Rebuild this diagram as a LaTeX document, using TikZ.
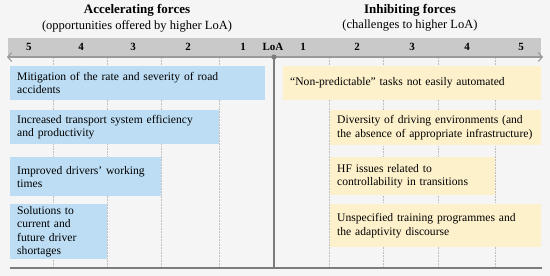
\documentclass[tikz,border=0pt]{standalone}
\usepackage{fontspec}
\setmainfont{Liberation Serif}
\usetikzlibrary{arrows.meta}
\definecolor{bgc}{HTML}{F5F5F5}
\definecolor{bandc}{HTML}{C9C9C9}
\definecolor{bluec}{HTML}{BCDDF3}
\definecolor{yellowc}{HTML}{FDF1CC}
\definecolor{axisc}{HTML}{7C7C7C}
\definecolor{arrowc}{HTML}{9A9A9A}
\definecolor{gridc}{HTML}{BDBDBD}
\begin{document}
\begin{tikzpicture}[x=1pt,y=-1pt,
  boxtext/.style={anchor=north west, inner xsep=7pt, inner ysep=0pt, align=left,
    font=\fontsize{11.6}{13.3}\selectfont, text=black},
  bluebox/.style={boxtext, fill=bluec},
  yellowbox/.style={boxtext, fill=yellowc},
  ticklab/.style={font=\fontsize{11}{12}\selectfont\bfseries, inner sep=0pt},
  titlelab/.style={font=\fontsize{13}{14}\selectfont\bfseries, inner sep=0pt},
  sublab/.style={font=\fontsize{12.5}{13}\selectfont, inner sep=0pt},
  gridline/.style={gridc, densely dotted, line width=0.6pt},
  axisline/.style={arrowc, line width=1.3pt, -{Straight Barb[length=4pt,width=9pt,line width=1.1pt]}},
  baseline/.style={axisc, line width=1.8pt}
]
\useasboundingbox[fill=bgc] (0,0) rectangle (550,276);

% titles
\node[titlelab] (tl) at (137,10) {Accelerating forces};
\node[sublab] (sl) at (137,26) {(opportunities offered by higher LoA)};
\node[titlelab] (tr) at (410,10) {Inhibiting forces};
\node[sublab] (sr) at (410,26) {(challenges to higher LoA)};

% band
\fill[bandc] (8,38) rectangle (541,57);

% coordinates of the axis
\coordinate (O) at (274,57);
\coordinate (Lend) at (7,57);
\coordinate (Rend) at (543,57);
\coordinate (Obot) at (274,268);
\coordinate (Bl) at (10,268);
\coordinate (Br) at (542,268);

% grid lines
\foreach \gx [count=\i] in {53,107,161,219,329,383,438,495}{
  \coordinate (gt\i) at (\gx,58);
  \coordinate (gb\i) at (\gx,267);
  \draw[gridline] (gt\i) -- (gb\i);
}

% tick labels
\node[ticklab] (l5) at (29,47) {5};
\node[ticklab] (l4) at (81,47) {4};
\node[ticklab] (l3) at (133,47) {3};
\node[ticklab] (l2) at (188,47) {2};
\node[ticklab] (l1) at (243,47) {1};
\node[ticklab] (loa) at (273,47) {LoA};
\node[ticklab] (r1) at (303,47) {1};
\node[ticklab] (r2) at (357,47) {2};
\node[ticklab] (r3) at (412,47) {3};
\node[ticklab] (r4) at (467,47) {4};
\node[ticklab] (r5) at (521,47) {5};

% axis arrows
\draw[axisline] (O) -- (Lend);
\draw[axisline] (O) -- (Rend);

% left boxes
\node[bluebox, minimum width=255pt, minimum height=34pt, text width=241pt] (a1) at (10,66)
  {\mbox{Mitigation of the rate and severity of road}\\\mbox{accidents}};
\node[bluebox, minimum width=209pt, minimum height=34pt, text width=195pt] (a2) at (10,110)
  {\mbox{Increased transport system efficiency}\\\mbox{and productivity}};
\node[bluebox, minimum width=151pt, minimum height=39pt, text width=137pt] (a3) at (10,157)
  {\mbox{Improved drivers’ working}\\\mbox{times}};
\node[bluebox, minimum width=97pt, minimum height=55pt, text width=83pt] (a4) at (10,204)
  {\mbox{Solutions to}\\\mbox{current and}\\\mbox{future driver}\\\mbox{shortages}};

% right boxes
\node[yellowbox, minimum width=258pt, minimum height=34pt, text width=244pt] (b1) at (283,66)
  {\mbox{“Non-predictable” tasks not easily automated}};
\node[yellowbox, minimum width=211pt, minimum height=35pt, text width=197pt] (b2) at (330,110)
  {\mbox{Diversity of driving environments (and}\\\mbox{the absence of appropriate infrastructure)}};
\node[yellowbox, minimum width=165pt, minimum height=38pt, text width=151pt] (b3) at (330,157)
  {\mbox{HF issues related to}\\\mbox{controllability in transitions}};
\node[yellowbox, minimum width=211pt, minimum height=43pt, text width=197pt] (b4) at (330,204)
  {\mbox{Unspecified training programmes and}\\\mbox{the adaptivity discourse}};

% center and bottom lines
\draw[baseline] (O) -- (Obot);
\draw[baseline] (Bl) -- (Br);
\fill[axisc] (O) circle (2.6pt);
\end{tikzpicture}
\end{document}
